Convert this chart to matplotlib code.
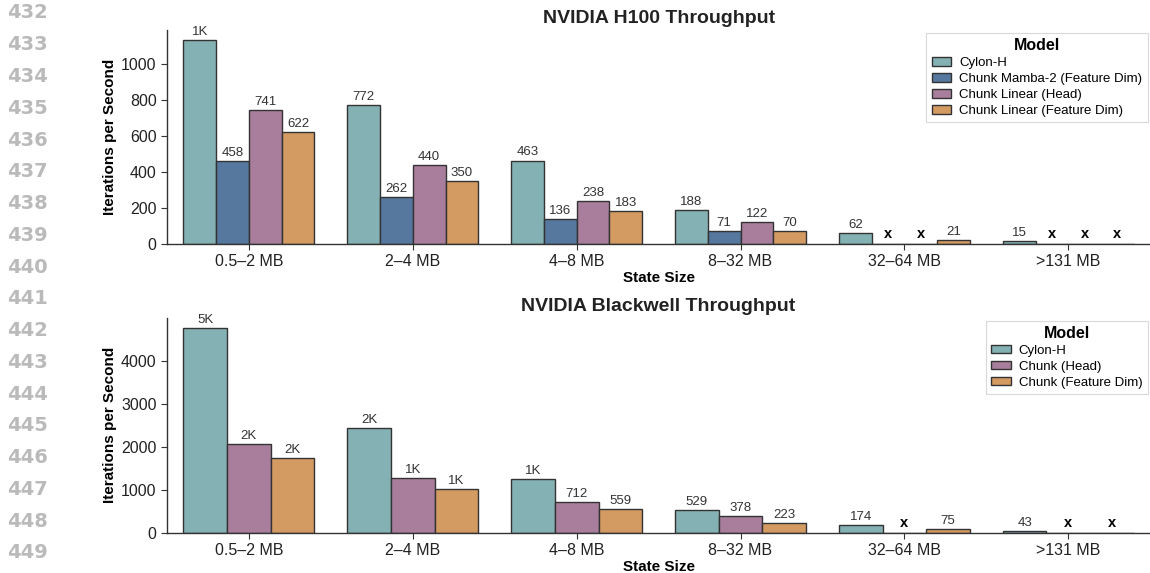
import matplotlib.pyplot as plt
import numpy as np

plt.rcParams['font.family'] = ['Liberation Sans', 'DejaVu Sans']

sizes = ["0.5–2 MB", "2–4 MB", "4–8 MB", "8–32 MB", "32–64 MB", ">131 MB"]

# H100 (nan = not available -> "x")
h100_models = ["Cylon-H", "Chunk Mamba-2 (Feature Dim)", "Chunk Linear (Head)", "Chunk Linear (Feature Dim)"]
h100_cylon = [1129, 772, 463, 188, 62, 15]
h100_mamba = [458, 262, 136, 71, np.nan, np.nan]
h100_head = [741, 440, 238, 122, np.nan, np.nan]
h100_feat = [622, 350, 183, 70, 21, np.nan]

# Blackwell
bw_models = ["Cylon-H", "Chunk (Head)", "Chunk (Feature Dim)"]
bw_cylon = [4753, 2442, 1242, 529, 174, 43]
bw_head = [2056, 1265, 712, 378, np.nan, np.nan]
bw_feat = [1737, 1005, 559, 223, 75, np.nan]

teal = "#84B1B4"
blue = "#56789E"
purple = "#A87E9C"
orange = "#D39A62"


def fmt(v):
    if v >= 1000:
        return f"{v/1000:.0f}K"
    return f"{v:.0f}"


def draw(ax, series, names, colors, title):
    n = len(series)
    w = 0.8 / n
    x = np.arange(len(sizes))
    for i, (vals, name, c) in enumerate(zip(series, names, colors)):
        pos = x - 0.4 + w * (i + 0.5)
        vals = np.array(vals, dtype=float)
        ax.bar(pos, np.nan_to_num(vals), width=w, color=c, edgecolor="#333333",
               linewidth=1, label=name)
        for p, v in zip(pos, vals):
            if np.isnan(v):
                ax.annotate("x", (p, 0), xytext=(0, 2), textcoords="offset points",
                            ha="center", va="bottom", fontsize=10.5, fontweight="bold",
                            color="black")
            else:
                ax.annotate(fmt(v), (p, v), xytext=(0, 1.5), textcoords="offset points",
                            ha="center", va="bottom", fontsize=9.5, color="#333333")
    ax.set_xlim(-0.5, len(sizes) - 0.5)
    top = np.nanmax([np.nanmax(s) for s in series])
    ax.set_ylim(0, top * 1.05)
    ax.set_xticks(x)
    ax.set_xticklabels(sizes, fontsize=11.5)
    ax.tick_params(axis="y", labelsize=11.5)
    ax.tick_params(length=4, color="#333333", labelcolor="#222222")
    ax.set_xlabel("State Size", fontsize=11, fontweight="bold", labelpad=1)
    ax.set_ylabel("Iterations per Second", fontsize=11, fontweight="bold", labelpad=3)
    ax.set_title(title, fontsize=14, fontweight="bold", pad=5, color="#222222")
    for s in ["top", "right"]:
        ax.spines[s].set_visible(False)
    for s in ["left", "bottom"]:
        ax.spines[s].set_color("#333333")
        ax.spines[s].set_linewidth(1)
    leg = ax.legend(title="Model", loc="upper right", fontsize=9.5,
                    title_fontproperties={"weight": "bold", "size": 11.5},
                    fancybox=False, edgecolor="#d0d0d0", borderaxespad=0.2,
                    handlelength=1.5, handleheight=0.6, labelspacing=0.3,
                    handletextpad=0.6)
    leg.get_frame().set_linewidth(0.8)


fig = plt.figure(figsize=(11.5, 5.73), dpi=100)
ax1 = fig.add_axes([0.1452, 0.5742, 0.855, 0.3729])
ax2 = fig.add_axes([0.1452, 0.0703, 0.855, 0.3747])

draw(ax1, [h100_cylon, h100_mamba, h100_head, h100_feat], h100_models,
     [teal, blue, purple, orange], "NVIDIA H100 Throughput")
draw(ax2, [bw_cylon, bw_head, bw_feat], bw_models,
     [teal, purple, orange], "NVIDIA Blackwell Throughput")

# line numbers in the margin
for k, num in enumerate(range(432, 450)):
    y = 13 + k * 31.76
    fig.text(7 / 1150, 1 - y / 573, str(num), fontsize=14, fontweight="bold",
             color="#bababa", ha="left", va="center", family="DejaVu Sans")

fig.savefig("out.png", dpi=100)
